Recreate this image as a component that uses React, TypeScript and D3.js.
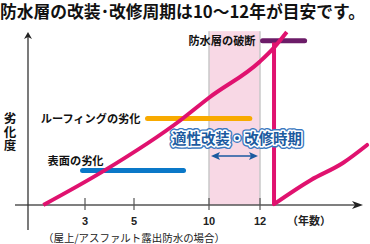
import React from "react";
import * as d3 from "d3";

const tickYears = [3, 5, 10, 12];
const tickLabels = ["3", "5", "10", "12"];
const wearYears = [1.3, 3.8, 8.1, 10, 12, 12.55, 13.05];
const wearLevels = [0, 20, 49, 62, 83, 91, 100];
const renewYears = [12.55, 14, 15.25, 16.2];
const renewLevels = [0.5, 14.5, 24.3, 34.7];
const breakYear = 12.55;
const breakTop = 94;
const periodYears = [10, 12];
const barNames = ["表面の劣化", "ルーフィングの劣化", "防水層の破断"];
const barStarts = [2.9, 5.9, 12.1];
const barEnds = [8.3, 11.6, 13.75];
const barLevels = [20, 50, 95];
const barColors = ["#0a78c8", "#f8aa00", "#6c1c68"];
const yTitle = "劣化度";

// label offsets (layout only)
const labelDx = [21, -7, -7];
const labelDy = [-5, 4.5, 4.5];

const FONT = "'Noto Sans CJK JP', 'Noto Sans', sans-serif";
const MAG = "#e0126f";

export default function App() {
  const W = 370, H = 244;
  const x = d3.scaleLinear().domain(tickYears).range([85, 134, 209, 260]);
  const y = d3.scaleLinear().domain([0, 100]).range([205, 32]);
  const line = d3
    .line<number>()
    .x((_, i) => x(wearYears[i]))
    .y((d) => y(d))
    .curve(d3.curveMonotoneX);
  const line2 = d3
    .line<number>()
    .x((_, i) => x(renewYears[i]))
    .y((d) => y(d))
    .curve(d3.curveMonotoneX);
  const axisY = y(0);
  const tx = 172;
  return (
    <svg
      width={W}
      height={H}
      style={{ position: "absolute", left: 0, top: 0, background: "#fff" }}
      fontFamily={FONT}
    >
      <text x={0} y={18} fontSize={16.5} fontWeight="bold" fill="#111" textLength={365} lengthAdjust="spacingAndGlyphs">
        防水層の改装･改修周期は10〜12年が目安です。
      </text>
      {/* band */}
      <rect
        x={x(periodYears[0])}
        y={y(100.5)}
        width={x(periodYears[1]) - x(periodYears[0])}
        height={axisY - y(100.5)}
        fill="#f8d8e5"
      />
      {periodYears.map((p) => (
        <line key={p} x1={x(p)} x2={x(p)} y1={y(100.5)} y2={axisY} stroke="#c8c8c8" strokeWidth={1.5} />
      ))}
      {/* axes */}
      <line x1={15} x2={356} y1={axisY} y2={axisY} stroke="#555" strokeWidth={1.5} />
      <path d={`M363,${axisY} L352,${axisY - 4} L355,${axisY} L352,${axisY + 4} Z`} fill="#222" />
      <line x1={28} x2={28} y1={36} y2={230} stroke="#333" strokeWidth={1.3} />
      <path d={`M28,32 L24,39 L28,37 L32,39 Z`} fill="#222" />
      {tickYears.map((t, i) => (
        <g key={t}>
          <line x1={x(t)} x2={x(t)} y1={axisY - 7} y2={axisY + 5} stroke="#555" strokeWidth={1.2} />
          <text x={x(t)} y={225} fontSize={11} fontWeight="bold" textAnchor="middle" fill="#222" fontFamily="'Liberation Sans', Arial, sans-serif">
            {tickLabels[i]}
          </text>
        </g>
      ))}
      <text x={287} y={224.5} fontSize={11} fontWeight="bold" fill="#222">（年数）</text>
      <text x={43} y={242} fontSize={10.5} fill="#222" textLength={182} lengthAdjust="spacingAndGlyphs">
        （屋上/アスファルト露出防水の場合）
      </text>
      <text
        x={10}
        y={112}
        fontSize={12.5}
        fontWeight="bold"
        fill="#111"
        style={{ writingMode: "vertical-rl", letterSpacing: "1px" }}
      >
        {yTitle}
      </text>
      {/* bars */}
      {barNames.map((n, i) => (
        <g key={n}>
          <line
            x1={x(barStarts[i])}
            x2={x(barEnds[i])}
            y1={y(barLevels[i])}
            y2={y(barLevels[i])}
            stroke={barColors[i]}
            strokeWidth={5}
            strokeLinecap="round"
          />
          <text
            x={x(barStarts[i]) + labelDx[i]}
            y={y(barLevels[i]) + labelDy[i]}
            fontSize={11.2}
            fontWeight="bold"
            textAnchor="end"
            fill="#111"
          >
            {n}
          </text>
        </g>
      ))}
      {/* wear curves */}
      <path d={line(wearLevels) || ""} fill="none" stroke={MAG} strokeWidth={4} />
      <line x1={x(breakYear)} x2={x(breakYear)} y1={y(breakTop)} y2={y(0)} stroke={MAG} strokeWidth={4} />
      <path d={line2(renewLevels) || ""} fill="none" stroke={MAG} strokeWidth={4} strokeLinecap="round" />
      {/* period label */}
      <text x={tx} y={144} fontSize={14.5} fontWeight="bold" fill="#1b5aa0" stroke="#3a78c0" strokeWidth={6} strokeLinejoin="round" textLength={130} lengthAdjust="spacingAndGlyphs">
        適性改装・改修時期
      </text>
      <text x={tx} y={144} fontSize={14.5} fontWeight="bold" fill="#1b5aa0" stroke="#fff" strokeWidth={3.2} strokeLinejoin="round" textLength={130} lengthAdjust="spacingAndGlyphs">
        適性改装・改修時期
      </text>
      <text x={tx} y={144} fontSize={14.5} fontWeight="bold" fill="#1b5aa0" textLength={130} lengthAdjust="spacingAndGlyphs">
        適性改装・改修時期
      </text>
      {/* double arrow */}
      <line x1={x(periodYears[0]) + 6} x2={x(periodYears[1]) - 6} y1={156} y2={156} stroke="#1b5aa0" strokeWidth={1.5} />
      <path d={`M${x(periodYears[0]) + 2},156 l9,-4 l-2,4 l2,4 Z`} fill="#1b5aa0" />
      <path d={`M${x(periodYears[1]) - 2},156 l-9,-4 l2,4 l-2,4 Z`} fill="#1b5aa0" />
    </svg>
  );
}
